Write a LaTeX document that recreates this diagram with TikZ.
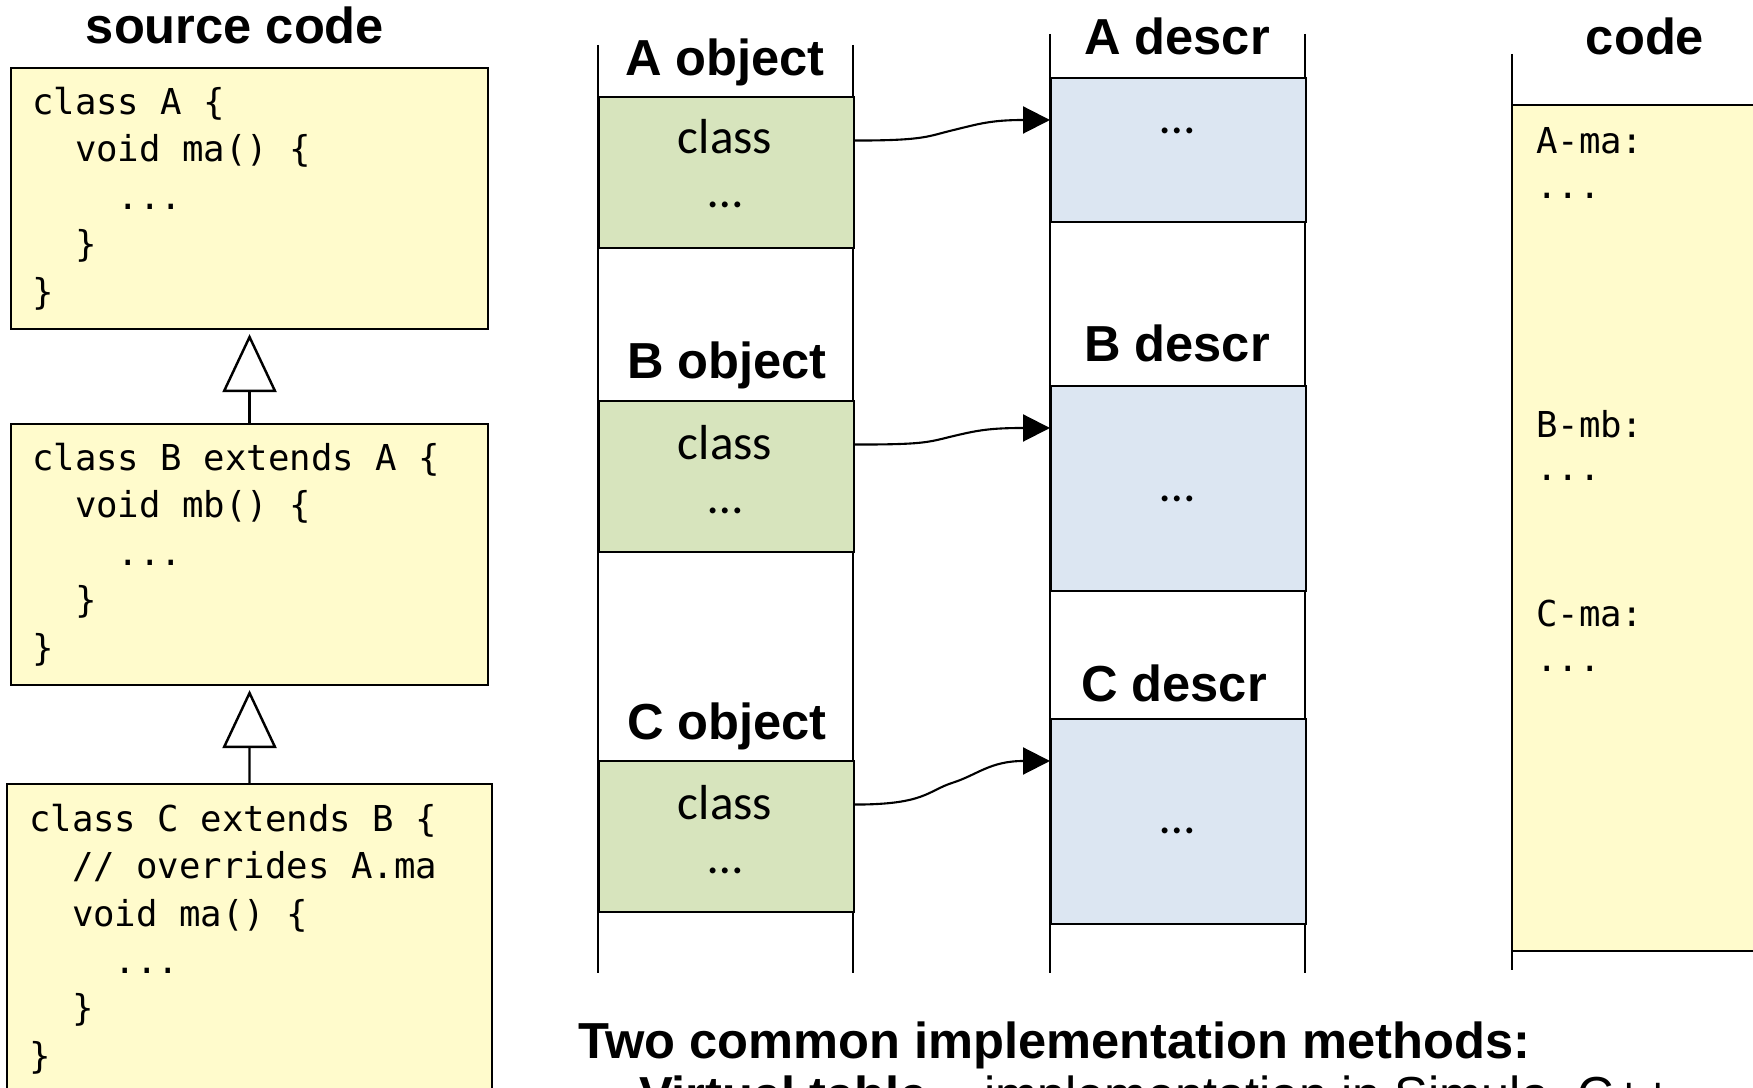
\documentclass[tikz,border=0pt]{standalone}
\usepackage{fontspec}
\usepackage{xcolor}
\usepackage{tikz}
\usetikzlibrary{positioning, calc, arrows.meta}
\newfontfamily\headfont{Liberation Sans}
\newfontfamily\cellfont{Carlito}
\newfontfamily\listfont{DejaVu Sans Mono}
\definecolor{srcyellow}{HTML}{FFFBCC}
\definecolor{objgreen}{HTML}{D7E4BD}
\definecolor{descrblue}{HTML}{DCE6F2}
% fixed-width blanks for the listings
\newcommand{\indt}{\phantom{xx}}
\newcommand{\ws}{\hspace{0.602em}}

\begin{document}
\begin{tikzpicture}[x=0.1mm, y=-0.1mm, line width=0.6pt,
    >={Triangle[length=2.7mm, width=2.7mm]},
    colhead/.style={anchor=base, inner sep=0pt, font=\headfont\bfseries\fontsize{14.4}{17}\selectfont},
    srcbox/.style={draw, fill=srcyellow, anchor=north west, align=left, inner xsep=2.1mm,
        text width=43.5mm, minimum height=26.1mm, font=\listfont\fontsize{10.15}{13.5}\selectfont},
    objbox/.style={draw, fill=objgreen, anchor=north west, minimum width=25.5mm, minimum height=15.1mm},
    descrbox/.style={draw, fill=descrblue, anchor=north west, minimum width=25.5mm},
    cell/.style={inner sep=0pt, font=\cellfont\fontsize{14}{17}\selectfont},
    asm/.style={anchor=west, inner sep=0pt, font=\listfont\fontsize{10.15}{13.5}\selectfont},
    extends/.style={-{Triangle[open, length=5.8mm, width=5.4mm, line width=0.7pt]}, shorten >=0.4mm}
]
    \useasboundingbox (0,0) rectangle (1753,1088);
    \clip (0,0) rectangle (1753,1088);

    % Source code
    \node[colhead] (srchead) at (235,44) {source code};
    \node[srcbox] (srca) at (10,67)
        {class\ws A\ws\{\\\indt void\ws ma()\ws\{\\\indt\indt ...\\\indt\}\\\}};
    \node[srcbox] (srcb) at (10,423)
        {class\ws B\ws extends\ws A\ws\{\\\indt void\ws mb()\ws\{\\\indt\indt ...\\\indt\}\\\}};
    \node[srcbox, inner xsep=2.2mm, text width=44.1mm, minimum height=31mm] (srcc) at (6,783)
        {class\ws C\ws extends\ws B\ws\{\\\indt //\ws overrides\ws A.ma\\\indt void\ws ma()\ws\{\\\indt\indt ...\\\indt\}\\\}};
    \draw[extends] (srcb.north) -- (srca.south);
    \draw[extends] (srcc.north) -- (srcb.south);

    % Objects
    \draw (598,45) -- (598,973);
    \draw (853,45) -- (853,973);
    \node[colhead] (aobjhead) at (725,76) {A object};
    \node[objbox] (aobj) at (598,96) {};
    \node[cell] (aobjclass) at (725,137) {class};
    \node[cell] (aobjdots) at (725,205) {…};
    \node[colhead] (bobjhead) at (727,379) {B object};
    \node[objbox] (bobj) at (598,400) {};
    \node[cell] (bobjclass) at (725,443) {class};
    \node[cell] (bobjdots) at (725,511) {…};
    \node[colhead] (cobjhead) at (727,740) {C object};
    \node[objbox] (cobj) at (598,760) {};
    \node[cell] (cobjclass) at (725,803) {class};
    \node[cell] (cobjdots) at (725,871) {…};

    % Class descriptors
    \draw (1050,34) -- (1050,973);
    \draw (1305,34) -- (1305,973);
    \node[colhead] (adescrhead) at (1177,55) {A descr};
    \node[descrbox, minimum height=14.4mm] (adescr) at (1050,77) {};
    \node[cell] (adescrdots) at (1177,131) {…};
    \node[colhead] (bdescrhead) at (1177,362) {B descr};
    \node[descrbox, minimum height=20.5mm] (bdescr) at (1050,385) {};
    \node[cell] (bdescrdots) at (1177,499) {…};
    \node[colhead] (cdescrhead) at (1174,702) {C descr};
    \node[descrbox, minimum height=20.5mm] (cdescr) at (1050,718) {};
    \node[cell] (cdescrdots) at (1177,831) {…};

    % Class pointers
    \coordinate (aout) at ([yshift=3.2mm]aobj.east);
    \coordinate (ain) at ([yshift=-4.3mm]adescr.north west);
    \draw[->] (aout) .. controls +(70,0) and +(-25,6) .. ($(aout)!0.5!(ain)$)
        .. controls +(25,-6) and +(-60,0) .. (ain);
    \coordinate (bout) at ([yshift=3.2mm]bobj.east);
    \coordinate (bin) at ([yshift=-4.3mm]bdescr.north west);
    \draw[->] (bout) .. controls +(70,0) and +(-25,6) .. ($(bout)!0.5!(bin)$)
        .. controls +(25,-6) and +(-60,0) .. (bin);
    \coordinate (cout) at ([yshift=3.2mm]cobj.east);
    \coordinate (cin) at ([yshift=-4.3mm]cdescr.north west);
    \draw[->] (cout) .. controls +(70,0) and +(-25,8) .. ($(cout)!0.5!(cin)$)
        .. controls +(25,-8) and +(-60,0) .. (cin);

    % Method code
    \draw (1512,54) -- (1512,970);
    \draw[fill=srcyellow] (1512,105) rectangle (1800,951);
    \node[colhead] (codehead) at (1645,55) {code};
    \node[asm] (ama) at (1535,141) {A-ma:};
    \node[asm] (amadots) at (1535,196) {...};
    \node[asm] (bmb) at (1535,424) {B-mb:};
    \node[asm] (bmbdots) at (1535,478) {...};
    \node[asm] (cma) at (1535,614) {C-ma:};
    \node[asm] (cmadots) at (1535,669) {...};

    % Methods text
    \node[anchor=base west, inner sep=0pt, font=\headfont\bfseries\fontsize{14.4}{17}\selectfont]
        (methods) at (577,1058) {Two common implementation methods:};
    \node[anchor=base west, inner sep=0pt, font=\headfont\fontsize{14.4}{17}\selectfont]
        (vtable) at (638,1112) {\llap{\textbullet\hspace{6pt}}\textbf{Virtual table} – implementation in Simula, C++};
\end{tikzpicture}
\end{document}
